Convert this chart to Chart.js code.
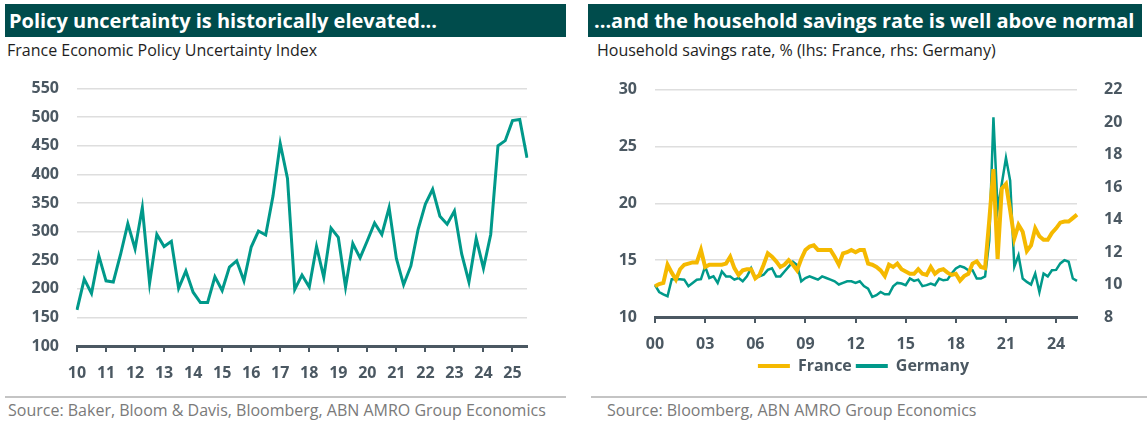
<!DOCTYPE html>
<html>
<head>
<meta charset="utf-8">
<script src="https://cdn.jsdelivr.net/npm/chart.js@4/dist/chart.umd.min.js"></script>
<style>
  html, body { margin:0; padding:0; background:#fff; width:1147px; height:426px; overflow:hidden; font-family:"Open Sans", sans-serif; }
  .bar { position:absolute; top:4px; height:33px; background:#004c4c; color:#fff; font-weight:700; font-size:20px; line-height:33px; white-space:nowrap; box-sizing:border-box; }
  .sub { position:absolute; top:39px; font-size:16px; color:#1e1e1e; white-space:nowrap; }
  .sep { position:absolute; top:396px; height:2px; background:#c4c4c4; }
  .src { position:absolute; top:399px; font-size:16px; color:#7a7a7a; white-space:nowrap; }
  .cv { position:absolute; }
</style>
</head>
<body>
<div class="bar" style="left:5px;width:561px;padding-left:4px;">Policy uncertainty is historically elevated...</div>
<div class="bar" style="left:588px;width:554px;padding-left:6px;">...and the household savings rate is well above normal</div>
<div class="sub" style="left:7px;">France Economic Policy Uncertainty Index</div>
<div class="sub" style="left:597px;">Household savings rate, % (lhs: France, rhs: Germany)</div>
<div class="cv" style="left:0;top:61px;width:570px;height:330px;"><canvas id="c1"></canvas></div>
<div class="cv" style="left:580px;top:61px;width:567px;height:323px;"><canvas id="c2"></canvas></div>
<div class="sep" style="left:5px;width:561px;"></div>
<div class="sep" style="left:591px;width:556px;"></div>
<div class="src" style="left:8px;">Source: Baker, Bloom &amp; Davis, Bloomberg, ABN AMRO Group Economics</div>
<div class="src" style="left:607px;">Source: Bloomberg, ABN AMRO Group Economics</div>
<script>
// ---------- DATA ----------
const epuStartYear = 2010;
const epuYearTicks = ['10','11','12','13','14','15','16','17','18','19','20','21','22','23','24','25'];
const epuValues = [163,217,192,258,214,212,260,314,270,342,210,295,274,283,201,231,194,176,176,221,197,238,249,214,273,301,294,362,454,393,199,224,203,274,220,306,290,203,279,254,284,315,295,342,253,207,240,304,348,374,327,313,336,261,212,288,236,295,450,459,494,496,429];

const savStartYear = 2000;
const savYearTicks = ['00','03','06','09','12','15','18','21','24'];
const franceSavings = [12.7,12.9,13.0,14.6,13.9,13.3,14.2,14.6,14.7,14.8,14.8,15.9,14.4,14.6,14.6,14.6,14.6,14.7,15.3,14.3,13.7,14.1,14.2,14.2,13.4,13.7,14.6,15.6,15.3,14.9,14.4,14.6,15.0,14.6,14.1,15.1,15.9,16.2,16.3,15.9,15.9,15.9,15.9,15.3,14.6,15.6,15.7,15.9,15.7,15.9,15.9,14.7,
  14.6,14.4,14.1,13.6,14.6,14.4,14.7,14.2,14.0,13.8,13.8,14.2,13.8,13.7,14.4,13.8,14.1,14.2,13.9,13.7,13.8,13.2,13.6,13.8,14.7,14.9,14.4,14.3,
  18.5,23.0,15.1,21.3,21.7,19.4,16.9,18.1,17.5,15.8,16.3,17.8,17.1,16.8,16.8,17.4,17.8,18.3,18.4,18.4,18.7,19.0];
const germanySavings = [9.96,9.54,9.4,9.28,10.33,10.33,10.33,10.3,9.9,10.1,10.3,10.33,11.1,10.4,10.5,10.1,10.8,10.5,10.5,10.3,10.4,10.2,10.5,11.0,10.4,10.5,10.6,10.9,11.0,10.5,10.5,10.8,11.1,11.4,11.2,10.2,10.4,10.5,10.4,10.3,10.5,10.4,10.3,10.2,10.0,10.1,10.2,10.2,10.1,10.2,9.9,9.75,
  9.24,9.34,9.54,9.4,9.4,9.89,10.1,10.06,9.96,10.37,10.22,10.3,9.9,9.96,10.06,9.96,10.37,10.26,10.3,10.68,10.99,11.13,11.05,10.88,10.88,10.37,10.37,10.5,
  12.7,20.3,14.6,16.2,17.8,16.4,11.1,11.8,10.37,10.16,10.0,10.68,9.54,10.68,10.5,10.88,10.9,11.3,11.5,11.4,10.37,10.22];

function quarterLabels(startYear, n) {
  const out = [];
  for (let i = 0; i < n; i++) out.push((startYear + Math.floor(i / 4)) + 'Q' + (i % 4 + 1));
  return out;
}
const epuLabels = quarterLabels(epuStartYear, epuValues.length);
const savLabels = quarterLabels(savStartYear, franceSavings.length);

// ---------- STYLE ----------
const TEAL = '#00998a';
const YELLOW = '#f5b900';
const AXIS = '#4b5862';
const GRID = '#dedede';
const tickFont = { family: '"Open Sans", sans-serif', size: 16, weight: 'bold' };

Chart.defaults.animation = false;
Chart.defaults.font.family = '"Open Sans", sans-serif';

// ---------- LEFT CHART ----------
new Chart(document.getElementById('c1'), {
  type: 'line',
  data: {
    labels: epuLabels,
    datasets: [{ data: epuValues, borderColor: TEAL, borderWidth: 3, pointRadius: 0, tension: 0, fill: false }]
  },
  options: {
    responsive: true, maintainAspectRatio: false,
    layout: { padding: { top: 0, right: 43, left: 0, bottom: 0 } },
    plugins: { legend: { display: false }, tooltip: { enabled: false } },
    scales: {
      x: {
        type: 'category', offset: false,
        grid: { drawOnChartArea: false, drawTicks: true, tickLength: 6, color: AXIS, lineWidth: 2 },
        border: { display: true, color: AXIS, width: 3 },
        ticks: {
          autoSkip: false, maxRotation: 0, padding: 12, color: AXIS, font: tickFont,
          callback: function(v, i) { return i % 4 === 0 ? epuYearTicks[i / 4] : null; }
        },
        afterFit: function(s) { s.height = 45; }
      },
      y: {
        min: 100, max: 550,
        grid: { color: GRID, lineWidth: 1.5, drawTicks: false },
        border: { display: false },
        ticks: { stepSize: 50, padding: 18, color: AXIS, font: tickFont },
        afterFit: function(s) { s.width = 77; }
      }
    }
  }
});

// ---------- RIGHT CHART ----------
const defaultGen = Chart.defaults.plugins.legend.labels.generateLabels;
new Chart(document.getElementById('c2'), {
  type: 'line',
  data: {
    labels: savLabels,
    datasets: [
      { label: 'France', data: franceSavings, yAxisID: 'y', borderColor: YELLOW, backgroundColor: YELLOW, borderWidth: 4, pointRadius: 0, tension: 0, fill: false },
      { label: 'Germany', data: germanySavings, yAxisID: 'y1', borderColor: TEAL, backgroundColor: TEAL, borderWidth: 2.5, pointRadius: 0, tension: 0, fill: false }
    ]
  },
  options: {
    responsive: true, maintainAspectRatio: false,
    layout: { padding: { top: 0, right: 0, left: 0, bottom: 0 } },
    plugins: {
      tooltip: { enabled: false },
      legend: {
        display: true, position: 'bottom',
        labels: {
          boxWidth: 32, boxHeight: 4, padding: 4, color: AXIS,
          font: { family: '"Open Sans", sans-serif', size: 16, weight: 'bold' },
          generateLabels: function(chart) {
            return defaultGen(chart).map(function(l) { l.lineWidth = 0; return l; });
          }
        }
      }
    },
    scales: {
      x: {
        type: 'category', offset: false,
        grid: { drawOnChartArea: false, drawTicks: true, tickLength: 6, color: AXIS, lineWidth: 2 },
        border: { display: true, color: AXIS, width: 3 },
        ticks: {
          autoSkip: false, maxRotation: 0, padding: 12, color: AXIS, font: tickFont,
          callback: function(v, i) { return i % 12 === 0 ? savYearTicks[i / 12] : null; }
        },
        afterFit: function(s) { s.height = 37; }
      },
      y: {
        position: 'left', min: 10, max: 30,
        grid: { color: GRID, lineWidth: 1.5, drawTicks: false },
        border: { display: false },
        ticks: { stepSize: 5, padding: 18, color: AXIS, font: tickFont },
        afterFit: function(s) { s.width = 75; }
      },
      y1: {
        position: 'right', min: 8, max: 22,
        grid: { display: false, drawOnChartArea: false },
        border: { display: false },
        ticks: { stepSize: 2, padding: 19, color: AXIS, font: tickFont },
        afterFit: function(s) { s.width = 70; }
      }
    }
  }
});
</script>
</body>
</html>
